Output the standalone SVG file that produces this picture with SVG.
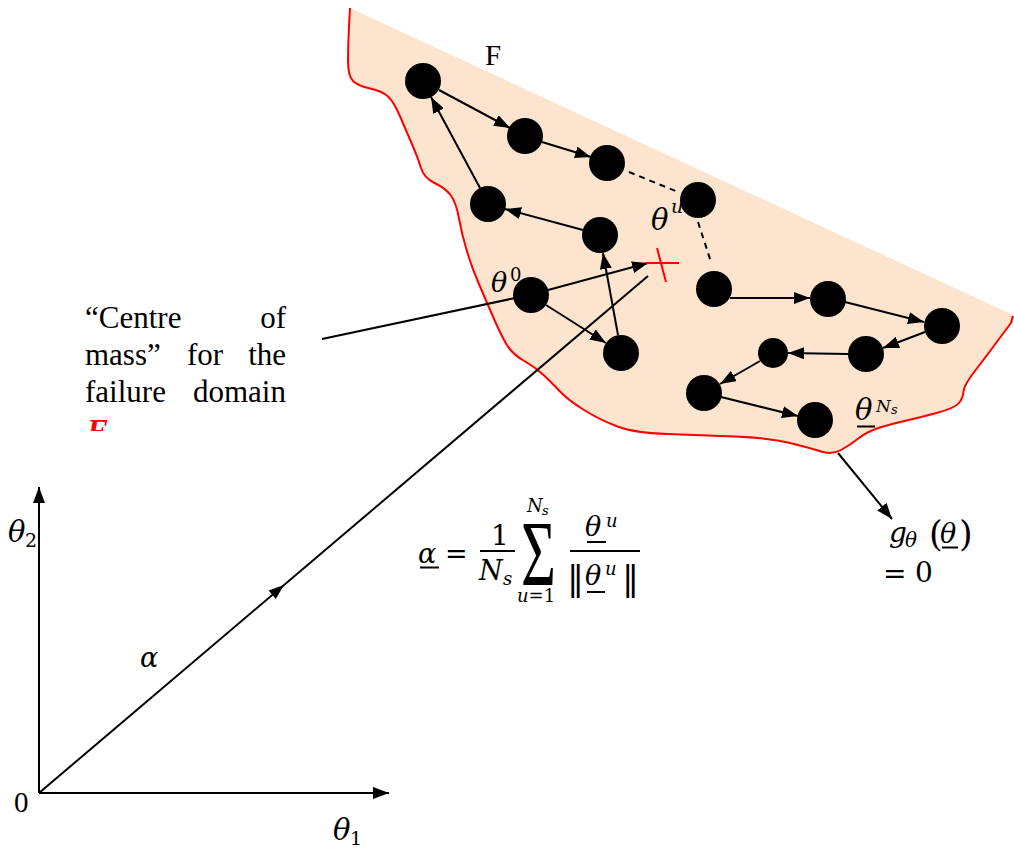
<svg xmlns="http://www.w3.org/2000/svg" width="1014" height="850" viewBox="0 0 1014 850">
<style>
.t{font-family:"Liberation Serif","Times New Roman",serif;fill:#000}
.m{font-family:"DejaVu Serif",serif;font-style:italic;fill:#000}
.u{font-family:"DejaVu Serif",serif;font-style:normal;fill:#000}
.ln{stroke:#000;stroke-width:2;fill:none}
.ar{stroke:#000;stroke-width:2;fill:none;marker-end:url(#ah)}
.dash{stroke:#000;stroke-width:2;stroke-dasharray:6 5;fill:none}
.ul{stroke:#000;stroke-width:2}
.node{fill:#000}
</style>
<defs>
<marker id="ah" markerUnits="userSpaceOnUse" markerWidth="16" markerHeight="12" refX="16" refY="6" orient="auto">
<path d="M0,0 L16,6 L0,12 z" fill="#000"/>
</marker>
<clipPath id="clipF"><rect x="80" y="410" width="40" height="21"/></clipPath>
</defs>

<g id="failure-domain">
<path d="M350,8 L349,26.5 Q348,45 348,60.5 Q348,76 353,81 Q358,86 370,88.5 Q382,91 388,96.5 Q394,102 401,118.5 Q408,135 413,146.5 Q418,158 421,168 Q424,178 434.5,183 Q445,188 450.5,195 Q456,202 459,218.5 Q462,235 467,251.5 Q472,268 478.5,283 Q485,298 492.5,315.5 Q500,333 506,343.5 Q512,354 523.5,360.5 Q535,367 543.5,375 Q552,383 560,391.5 Q568,400 584,410 Q600,420 617.5,426.5 Q635,433 667.5,434 Q700,435 735,436.5 Q770,438 790,443 Q810,448 821,451.5 Q832,455 841,450 Q850,445 859,438 Q868,431 881.5,427 Q895,423 906.5,420.5 Q918,418 936.5,413 Q955,408 959,403 Q963,398 963.5,391.5 Q964,385 974.5,371.5 Q985,358 999,339 L1013,320 L1013,315 Z" fill="#FCE4CF" stroke="none"/>
<path d="M350,8 L349,26.5 Q348,45 348,60.5 Q348,76 353,81 Q358,86 370,88.5 Q382,91 388,96.5 Q394,102 401,118.5 Q408,135 413,146.5 Q418,158 421,168 Q424,178 434.5,183 Q445,188 450.5,195 Q456,202 459,218.5 Q462,235 467,251.5 Q472,268 478.5,283 Q485,298 492.5,315.5 Q500,333 506,343.5 Q512,354 523.5,360.5 Q535,367 543.5,375 Q552,383 560,391.5 Q568,400 584,410 Q600,420 617.5,426.5 Q635,433 667.5,434 Q700,435 735,436.5 Q770,438 790,443 Q810,448 821,451.5 Q832,455 841,450 Q850,445 859,438 Q868,431 881.5,427 Q895,423 906.5,420.5 Q918,418 936.5,413 Q955,408 959,403 Q963,398 963.5,391.5 Q964,385 974.5,371.5 Q985,358 999,339 L1011,323 L1013,316" fill="none" stroke="#FF0000" stroke-width="2" stroke-linejoin="round"/>
<text class="t" x="485" y="65" font-size="29">F</text>
</g>

<g id="connectors">
<line class="ar" x1="439" y1="90" x2="510" y2="128"/>
<line class="ar" x1="542" y1="142" x2="591" y2="157"/>
<line class="ar" x1="480" y1="188" x2="431" y2="97"/>
<line class="ar" x1="583" y1="230" x2="505" y2="209"/>
<line class="ar" x1="618" y1="335" x2="603" y2="253"/>
<line class="ar" x1="546" y1="305" x2="606" y2="343"/>
<line class="ar" x1="548" y1="290" x2="648" y2="263"/>
<line class="ar" x1="730" y1="298" x2="810" y2="298"/>
<line class="ar" x1="845" y1="302" x2="924" y2="322"/>
<line class="ar" x1="925" y1="332" x2="883" y2="348"/>
<line class="ar" x1="848" y1="354" x2="788" y2="353"/>
<line class="ar" x1="760" y1="361" x2="720" y2="384"/>
<line class="ar" x1="721" y1="397" x2="798" y2="416"/>
<line class="dash" x1="629" y1="172" x2="678" y2="192"/>
<line class="dash" x1="698" y1="222" x2="711" y2="262"/>
<line class="ln" x1="322" y1="339" x2="520" y2="297"/>
<line class="ln" x1="39" y1="793" x2="648" y2="276"/>
<polygon points="284,585 275.8,599.1 268.6,590.5" fill="#000"/>
<line class="ar" x1="39" y1="793" x2="39" y2="487"/>
<line class="ar" x1="39" y1="793" x2="389" y2="793"/>
<line class="ar" x1="838" y1="453" x2="892" y2="519"/>
</g>

<g id="centre-cross" stroke="#FF0000" stroke-width="2">
<line x1="646" y1="263" x2="679" y2="263"/>
<line x1="657" y1="248" x2="666" y2="282"/>
</g>

<g id="samples">
<circle id="n1" class="node" cx="423" cy="81" r="18"/>
<circle id="n2" class="node" cx="525" cy="136" r="18"/>
<circle id="n3" class="node" cx="607" cy="163" r="18"/>
<circle id="n4" class="node" cx="698" cy="200" r="18"/>
<circle id="n5" class="node" cx="488" cy="204" r="18"/>
<circle id="n6" class="node" cx="600" cy="235" r="18"/>
<circle id="n7" class="node" cx="531" cy="295" r="18"/>
<circle id="n8" class="node" cx="621" cy="353" r="18"/>
<circle id="n9" class="node" cx="714" cy="289" r="18"/>
<circle id="n10" class="node" cx="828" cy="299" r="18"/>
<circle id="n11" class="node" cx="942" cy="326" r="18"/>
<circle id="n12" class="node" cx="866" cy="354" r="18"/>
<circle id="n13" class="node" cx="773" cy="353" r="15"/>
<circle id="n14" class="node" cx="704" cy="393" r="18"/>
<circle id="n15" class="node" cx="815" cy="420" r="18"/>
</g>

<g id="sample-labels">
<text class="m" x="651" y="230" font-size="29">θ</text>
<text class="m" x="671" y="213" font-size="19">u</text>
<text class="m" x="491" y="292" font-size="27">θ</text>
<text class="u" x="510" y="281" font-size="18">0</text>
<text class="m" x="855" y="420" font-size="29">θ</text>
<line class="ul" x1="857" y1="426.5" x2="875" y2="426.5"/>
<text class="m" x="876" y="412" font-size="17">N</text>
<text class="m" x="891" y="414" font-size="13">s</text>
</g>

<g id="centre-label">
<text class="t" font-size="31" y="328" x="85">“Centre</text>
<text class="t" font-size="31" y="328" x="286" text-anchor="end">of</text>
<text class="t" font-size="31" y="365" x="85">mass”</text>
<text class="t" font-size="31" y="365" x="187">for</text>
<text class="t" font-size="31" y="365" x="286" text-anchor="end">the</text>
<text class="t" font-size="31" y="402" x="85">failure</text>
<text class="t" font-size="31" y="402" x="286" text-anchor="end">domain</text>
<text class="t" font-size="31" y="441" x="87" font-style="italic" font-weight="bold" clip-path="url(#clipF)" style="fill:#FF0000">F</text>
</g>

<g id="formula">
<text class="m" x="418" y="563" font-size="27">α</text>
<line class="ul" x1="420" y1="567.5" x2="439" y2="567.5"/>
<text class="u" x="445" y="563" font-size="27">=</text>
<text class="u" x="491" y="545" font-size="28">1</text>
<line class="ul" x1="480" y1="551" x2="515" y2="551"/>
<text class="m" x="479" y="580" font-size="27">N</text>
<text class="m" x="503" y="585" font-size="18">s</text>
<text class="t" transform="translate(521,585) scale(1,1.55)" font-size="60">Σ</text>
<text class="m" x="527" y="512" font-size="18">N</text>
<text class="m" x="542" y="515" font-size="13">s</text>
<text class="m" x="517" y="602" font-size="18">u<tspan class="u">=1</tspan></text>
<text class="m" x="585" y="536" font-size="27">θ</text>
<line class="ul" x1="587" y1="542" x2="606" y2="542"/>
<text class="m" x="606" y="527" font-size="18">u</text>
<line class="ul" x1="570" y1="551" x2="640" y2="551"/>
<text class="u" x="567" y="590" font-size="34">‖</text>
<text class="m" x="585" y="585" font-size="27">θ</text>
<line class="ul" x1="587" y1="592" x2="605" y2="592"/>
<text class="m" x="605" y="575" font-size="18">u</text>
<text class="u" x="622" y="590" font-size="34">‖</text>
</g>

<g id="limit-state-label">
<text class="m" x="889" y="542" font-size="28">g</text>
<text class="m" x="905" y="547" font-size="20">θ</text>
<text class="u" x="929" y="546" font-size="35">(</text>
<text class="m" x="940" y="543" font-size="27">θ</text>
<line class="ul" x1="942" y1="547.5" x2="958" y2="547.5"/>
<text class="u" x="959" y="546" font-size="35">)</text>
<text class="u" x="883" y="583" font-size="28">=</text>
<text class="u" x="915" y="582" font-size="28">0</text>
</g>

<g id="axes-labels">
<text class="m" x="8" y="542" font-size="29">θ</text>
<text class="u" x="25" y="547" font-size="19">2</text>
<text class="m" x="333" y="840" font-size="29">θ</text>
<text class="u" x="350" y="845" font-size="19">1</text>
<text class="m" x="140" y="667" font-size="27">α</text>
<text class="t" x="14" y="812" font-size="29">0</text>
</g>
</svg>
